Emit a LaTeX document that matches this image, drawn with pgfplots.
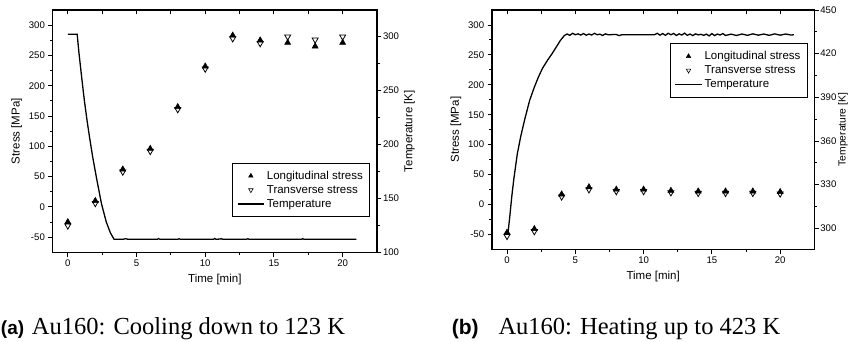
\documentclass[border=0pt]{standalone}
\usepackage{pgfplots}
\pgfplotsset{compat=1.18}
\usepackage{fontspec}
\setmainfont{Liberation Sans}
\newfontfamily\seriffont{Liberation Serif}

\pgfplotsset{
  base/.style={
    scale only axis, anchor=south west,
    xmin=-1.1, xmax=22.5,
    axis line style={line width=1.1pt},
    tick style={black, line width=0.9pt},
    major tick length=4.3pt, minor tick length=2.6pt,
    ticklabel style={font=\fontsize{9.6}{10}\selectfont},
    label style={font=\fontsize{11.5}{12}\selectfont},
    /pgf/number format/assume math mode=true,
  },
  stressax/.style={base,
    ymin=-75, ymax=325,
    xtick={0,5,10,15,20}, minor x tick num=1,
    ytick={-50,0,50,100,150,200,250,300}, minor y tick num=1,
    tick align=outside, xtick pos=bottom, ytick pos=left,
    xlabel={Time [min]}, ylabel={Stress [MPa]},
    legend cell align=left,
    legend image code/.code={\draw[mark repeat=2,mark phase=2,##1] plot coordinates {(0pt,0pt) (13.3pt,0pt) (26.7pt,0pt)};},
    legend style={draw=black, line width=0.7pt, font=\fontsize{11.5}{13}\selectfont,
      inner xsep=4.7pt, inner ysep=6pt, row sep=0.5pt,
      anchor=north east},
  },
  tempax/.style={base, axis x line=none, axis y line*=right, tick align=outside,
    minor y tick num=1, ylabel={Temperature [K]},
    yticklabel style={xshift=-1.8pt}},
  topax/.style={base, hide y axis, axis x line*=top, xtick={0,2.5,...,22.5},
    xticklabels={}, tick align=inside, major tick length=4pt},
  longi/.style={only marks, mark=triangle*, mark size=3.5pt, black, mark options={line width=0.5pt},
    legend image post style={mark size=2.6pt}},
  trans/.style={only marks, mark=triangle, mark size=3.5pt, black, mark options={rotate=180, fill=white, line width=0.8pt},
    legend image post style={mark size=2.6pt, mark options={rotate=180, fill=white, line width=0.6pt}}},
  temp/.style={black, line width=1.3pt, no marks},
}

\begin{document}
\begin{tikzpicture}[x=1pt,y=1pt]
\path[use as bounding box] (0,0) rectangle (849,341);

% ---------------- Panel (a) ----------------
\begin{axis}[stressax, at={(52.7pt,88.7pt)}, width=324.3pt, height=242.3pt,
  legend style={at={(0.978,0.37)}}]
\addplot[longi] coordinates {(0,-25)(2,10)(4,62)(6,96)(8,165)(10,232)(12,283)(14,275)(16,271)(18,265)(20,271)};
\addlegendentry{Longitudinal stress\hspace{5.6pt}}
\addplot[trans] coordinates {(0,-31)(2,6)(4,58)(6,92)(8,161)(10,228)(12,278)(14,270)(16,281)(18,276)(20,281)};
\addlegendentry{Transverse stress}
\addlegendimage{temp}
\addlegendentry{Temperature}
\end{axis}
\begin{axis}[tempax, at={(52.7pt,88.7pt)}, width=324.3pt, height=242.3pt,
  ymin=100, ymax=324.4, ytick={100,150,200,250,300},
  ylabel style={at={(axis description cs:1.0996,0.5)}, anchor=center}]
\addplot[temp] coordinates {(0,302)(0.68,302)(0.8,286)(1.0,263)(1.2,241)(1.4,222)(1.6,205)(1.8,189)(2.1,168)(2.45,145)(2.8,128)(3.1,118)(3.37,112)
(4,112)(4.2,112.6)(4.4,112)(6.5,112)(6.6,112.7)(6.7,112)(8,112)(8.1,112.6)(8.2,112)(10.6,112)(10.7,112.8)(10.8,112)(11.2,112.5)(11.3,112)(13,112)(13.1,112.6)(13.2,112)(17,112)(17.1,112.6)(17.2,112)(21,112)};
\end{axis}
\begin{axis}[topax, at={(52.7pt,88.7pt)}, width=324.3pt, height=242.3pt, ymin=0, ymax=1]
\end{axis}

% ---------------- Panel (b) ----------------
\begin{axis}[stressax, at={(492pt,91.7pt)}, width=322.3pt, height=239.3pt,
  legend style={at={(0.979,0.862)}}]
\addplot[longi] coordinates {(0,-47)(2,-41)(4,17)(6,29)(8,25)(10,25)(12,23)(14,22)(16,22)(18,22)(20,21)};
\addlegendentry{Longitudinal stress\hspace{5.6pt}}
\addplot[trans] coordinates {(0,-53)(2,-45)(4,13)(6,25)(8,22)(10,22)(12,20)(14,19)(16,19)(18,19)(20,18)};
\addlegendentry{Transverse stress}
\addlegendimage{temp}
\addlegendentry{Temperature}
\end{axis}
\begin{axis}[tempax, at={(492pt,91.7pt)}, width=322.3pt, height=239.3pt,
  ymin=285.6, ymax=450, ytick={300,330,360,390,420,450},
  ylabel style={at={(axis description cs:1.0887,0.5)}, anchor=center, font=\fontsize{10.3}{11}\selectfont}]
\addplot[temp] coordinates {(0.07,296.6)(0.2,308)(0.35,322)(0.5,334)(0.75,351)(1.0,363)(1.3,375)(1.66,388)(2.0,397)(2.3,404)(2.6,410)(3.0,416)(3.3,420)(3.6,424.5)(3.9,429)(4.2,432.5)(4.4,433.5)
(4.6,432.6)(4.8,434)(5.0,433)(5.2,433.6)(5.4,432.8)(5.6,433.8)(5.8,432.7)(6.0,433.5)(6.2,432.8)(6.4,434)(6.6,433)(6.8,433.4)(7.0,432.5)(7.2,433.6)(7.4,433)(8.0,433.2)(8.2,432.4)(8.4,433)(9,433)(10.8,433)(11.0,434)(11.2,432.7)(11.4,433.8)(11.6,432.6)(11.8,434)(12.0,433)(12.2,433.9)(12.4,432.5)(12.6,433.6)(12.8,432.8)(13.0,434.1)(13.2,432.6)(13.4,433.5)(13.6,432.4)(13.8,433.6)(14.0,432.9)(14.2,433.3)(14.4,432.6)(14.6,433.4)(14.8,432.2)(15.0,433.8)(15.2,432.4)(15.4,433.5)(15.6,432.8)(15.8,433.8)(16.0,432.5)(16.4,433.4)(16.8,432.5)(17.2,433.5)(17.6,432.6)(18.0,433.6)(18.4,432.7)(18.8,433.5)(19.2,432.6)(19.6,433.6)(20.0,432.7)(20.4,433.5)(20.8,432.8)(21,433)};
\end{axis}
\begin{axis}[topax, at={(492pt,91.7pt)}, width=322.3pt, height=239.3pt, ymin=0, ymax=1]
\end{axis}

% ---------------- Captions ----------------
\node[anchor=base west, inner sep=0pt, font=\bfseries\fontsize{19}{22}\selectfont] at (0.8,7) {(a)};
\node[anchor=base west, inner sep=0pt, font=\seriffont\fontsize{24.5}{28}\selectfont] at (31.7,7) {Au160: Cooling down to 123 K};
\node[anchor=base west, inner sep=0pt, font=\bfseries\fontsize{21}{24}\selectfont] at (451.7,7) {(b)};
\node[anchor=base west, inner sep=0pt, font=\seriffont\fontsize{24.5}{28}\selectfont] at (498.3,7) {Au160: Heating up to 423 K};
\end{tikzpicture}
\end{document}
